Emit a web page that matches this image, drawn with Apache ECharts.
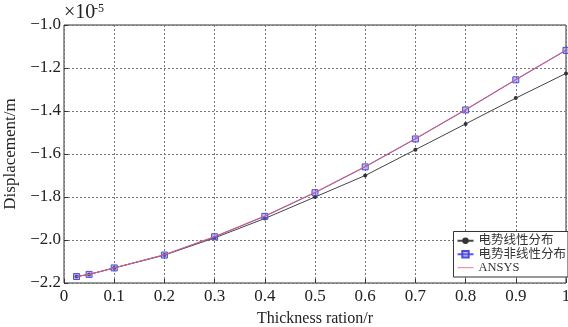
<!DOCTYPE html>
<html><head><meta charset="utf-8">
<script src="https://cdn.jsdelivr.net/npm/echarts@6/dist/echarts.min.js"></script>
<style>html,body{margin:0;padding:0;background:#fff}#c{width:568px;height:327px}</style>
</head><body><div id="c"></div>
<script>
const xVals = [0.025, 0.05, 0.1, 0.2, 0.3, 0.4, 0.5, 0.6, 0.7, 0.8, 0.9, 1.0];
const linearVals = [-2.17, -2.16, -2.13, -2.07, -1.99, -1.90, -1.80, -1.70, -1.58, -1.46, -1.34, -1.225];
const nonlinearVals = [-2.17, -2.16, -2.13, -2.07, -1.985, -1.89, -1.78, -1.66, -1.53, -1.395, -1.255, -1.118];
const ansysVals = [-2.17, -2.16, -2.13, -2.068, -1.984, -1.888, -1.778, -1.658, -1.528, -1.393, -1.253, -1.116];
const seriesNames = ['电势线性分布', '电势非线性分布', 'ANSYS'];
const xTitle = 'Thickness ration/r';
const yTitle = 'Displacement/m';

const pair = (ys) => xVals.map((x, i) => [x, ys[i]]);
const serif = '"Liberation Serif", "Times New Roman", serif';
const chart = echarts.init(document.getElementById('c'));
chart.setOption({
  animation: false,
  grid: { left: 64, right: 2, top: 25, bottom: 44, show: true, borderColor: '#333', borderWidth: 1,
    outerBoundsMode: 'none', containLabel: false },
  xAxis: {
    type: 'value', min: 0, max: 1, interval: 0.1,
    name: xTitle, nameLocation: 'middle', nameGap: 28,
    nameTextStyle: { fontFamily: serif, fontSize: 16, color: '#222' },
    axisLine: { show: false },
    axisTick: { inside: true, length: 4, lineStyle: { color: '#333' } },
    axisLabel: { fontFamily: serif, fontSize: 17, color: '#222', margin: 5,
      formatter: v => v === 1 ? '1' : (v === 0 ? '0' : v.toFixed(1)) },
    splitLine: { show: true, lineStyle: { type: [2, 2], color: '#777', width: 1 } }
  },
  yAxis: {
    type: 'value', min: -2.2, max: -1.0, interval: 0.2,
    name: yTitle, nameLocation: 'middle', nameGap: 41,
    nameTextStyle: { fontFamily: serif, fontSize: 17, color: '#222' },
    axisLine: { show: false },
    axisTick: { inside: true, length: 4, lineStyle: { color: '#333' } },
    axisLabel: { fontFamily: serif, fontSize: 17, color: '#222', margin: 3,
      formatter: v => '\u2212' + Math.abs(v).toFixed(1) },
    splitLine: { show: true, lineStyle: { type: [2, 2], color: '#777', width: 1 } }
  },
  legend: {
    orient: 'vertical', right: 0, bottom: 50,
    backgroundColor: '#fff', borderColor: '#333', borderWidth: 1,
    padding: [3, 2, 3, 3], itemGap: 1, itemWidth: 16, itemHeight: 8,
    textStyle: { fontFamily: serif + ', "Noto Sans CJK SC"', fontSize: 12.5, color: '#333' },
    data: [
      { name: seriesNames[0] },
      { name: seriesNames[1] },
      { name: seriesNames[2], icon: 'path://M0,0H20V1H0Z', itemStyle: { color: '#e06070' } }
    ]
  },
  graphic: [
    { type: 'text', left: 64, top: 3, style: { text: '×10', fontFamily: serif, fontSize: 20, fill: '#222' } },
    { type: 'text', left: 94, top: 3, style: { text: '-5', fontFamily: serif, fontSize: 12, fill: '#222' } }
  ],
  series: [
    { name: seriesNames[0], type: 'line', data: pair(linearVals), symbol: 'circle', symbolSize: 4,
      itemStyle: { color: '#333' }, lineStyle: { color: '#444', width: 1 }, z: 2 },
    { name: seriesNames[1], type: 'line', data: pair(nonlinearVals), symbol: 'rect', symbolSize: 6,
      itemStyle: { color: 'rgba(120,110,230,0.45)', borderColor: '#4a4ae0', borderWidth: 1 },
      lineStyle: { color: '#5a5ae0', width: 1 }, z: 3 },
    { name: seriesNames[2], type: 'line', data: pair(ansysVals), symbol: 'none',
      itemStyle: { color: '#e06070' }, lineStyle: { color: '#e06070', width: 1 }, z: 4 }
  ]
});
</script></body></html>
